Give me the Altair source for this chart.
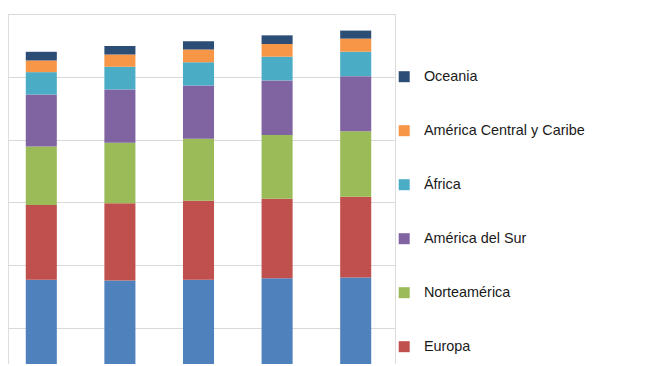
import altair as alt
import pandas as pd

categorias = ["2010", "2011", "2012", "2013", "2014"]
regiones = ["Asia", "Europa", "Norteamérica", "América del Sur", "África",
            "América Central y Caribe", "Oceania"]
colores = ["#4F81BD", "#C0504D", "#9BBB59", "#8064A2", "#4BACC6", "#F79646", "#2C4D75"]

asia = [1383, 1377, 1383, 1396, 1401]
europa = [596, 617, 630, 632, 644]
norteamerica = [465, 481, 494, 508, 521]
america_sur = [415, 423, 423, 435, 439]
africa = [178, 181, 186, 189, 195]
america_central = [93, 98, 101, 101, 104]
oceania = [69, 69, 66, 69, 64]

series = [asia, europa, norteamerica, america_sur, africa, america_central, oceania]
grid_values = [1000, 1500, 2000, 2500, 3000, 3500]

rows = []
for orden, (reg, vals) in enumerate(zip(regiones, series)):
    for cat, v in zip(categorias, vals):
        rows.append({"cat": cat, "region": reg, "valor": v, "orden": orden})
df = pd.DataFrame(rows)

legend_order = list(reversed(regiones))
legend_values = [r for r in legend_order if r != "Asia"]

chart = alt.Chart(df).mark_bar(clip=True).encode(
    x=alt.X("cat:N", sort=categorias, axis=None,
            scale=alt.Scale(range=[-6, 387], paddingInner=0.605, paddingOuter=0.3025)),
    y=alt.Y("valor:Q", stack="zero",
            scale=alt.Scale(domain=[713, 3500], nice=False, zero=False),
            axis=alt.Axis(values=grid_values, labels=False, ticks=False, domain=False,
                          title=None, grid=True, gridColor="#D9D9D9", gridWidth=1)),
    color=alt.Color("region:N",
                    scale=alt.Scale(domain=legend_order, range=list(reversed(colores))),
                    legend=alt.Legend(values=legend_values, title=None, orient="none",
                                      legendX=389, legendY=55.5, symbolType="square",
                                      symbolSize=121, symbolStrokeWidth=0,
                                      labelFont="Liberation Sans", labelFontSize=14.4,
                                      labelColor="#1a1a1a", labelOffset=12.5,
                                      labelLimit=400,
                                      rowPadding=39.0, padding=0)),
    order=alt.Order("orden:Q", sort="ascending"),
).properties(
    width=387, height=350,
    padding={"left": 0, "top": 6, "right": 0, "bottom": 0},
).configure_view(
    stroke="#D9D9D9", strokeWidth=1
).configure(background="white")

chart.save("out.html", embed_options={"renderer": "svg", "actions": False})
